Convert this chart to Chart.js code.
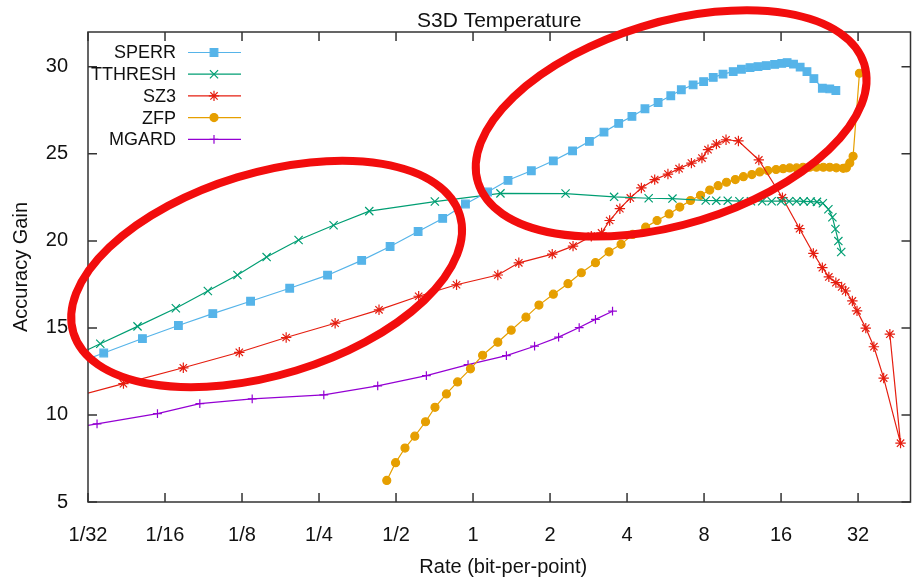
<!DOCTYPE html>
<html>
<head>
<meta charset="utf-8">
<title>S3D Temperature</title>
<script src="https://cdn.jsdelivr.net/npm/chart.js@4.4.1/dist/chart.umd.min.js"></script>
<style>
  html, body { margin: 0; padding: 0; background: #fff; }
  #wrap { width: 912px; height: 579px; }
</style>
</head>
<body>
<div id="wrap"><canvas id="chart" width="912" height="579"></canvas></div>
<script>
// axis ticks (rate is on a log2 axis)
const xTickValues = [1/32, 1/16, 1/8, 1/4, 1/2, 1, 2, 4, 8, 16, 32];
const xTickLabels = ['1/32', '1/16', '1/8', '1/4', '1/2', '1', '2', '4', '8', '16', '32'];
const yTickValues = [5, 10, 15, 20, 25, 30];

// series: rate (bit-per-point) and accuracy gain
const sperrRate = [0.0253, 0.0360, 0.0510, 0.0705, 0.0961, 0.135, 0.192, 0.270, 0.367, 0.474, 0.610, 0.761, 0.934, 1.14, 1.37, 1.69, 2.06, 2.45, 2.85, 3.25, 3.71, 4.18, 4.70, 5.29, 5.93, 6.52, 7.25, 7.97, 8.69, 9.49, 10.4, 11.2, 12.1, 13.0, 14.0, 15.1, 16.1, 16.9, 17.9, 19.0, 20.2, 21.5, 23.2, 24.8, 26.2];
const sperrGain = [12.72, 13.56, 14.39, 15.14, 15.82, 16.53, 17.28, 18.03, 18.88, 19.68, 20.54, 21.29, 22.12, 22.81, 23.48, 24.03, 24.60, 25.17, 25.72, 26.25, 26.75, 27.15, 27.59, 27.95, 28.34, 28.68, 28.96, 29.15, 29.39, 29.58, 29.72, 29.86, 29.95, 30.01, 30.07, 30.14, 30.20, 30.24, 30.15, 29.98, 29.72, 29.32, 28.77, 28.73, 28.64];

const tthreshRate = [0.0251, 0.0349, 0.0488, 0.0689, 0.0919, 0.120, 0.156, 0.208, 0.285, 0.393, 0.709, 1.28, 2.30, 3.56, 4.86, 6.02, 8.12, 8.93, 9.90, 11.0, 12.2, 13.5, 14.7, 16.0, 17.2, 18.4, 19.6, 20.9, 22.1, 23.3, 24.5, 25.4, 26.1, 26.8, 27.5];
const tthreshGain = [13.09, 14.09, 15.09, 16.13, 17.12, 18.04, 19.07, 20.05, 20.90, 21.71, 22.26, 22.73, 22.72, 22.53, 22.45, 22.43, 22.32, 22.31, 22.31, 22.28, 22.28, 22.28, 22.28, 22.28, 22.28, 22.28, 22.27, 22.26, 22.24, 22.16, 21.82, 21.36, 20.68, 19.99, 19.36];

const sz3Rate = [0.0252, 0.0430, 0.0737, 0.122, 0.186, 0.289, 0.429, 0.613, 0.862, 1.25, 1.51, 2.04, 2.46, 2.90, 3.18, 3.42, 3.75, 4.12, 4.55, 5.13, 5.78, 6.39, 7.14, 7.85, 8.29, 8.94, 9.75, 10.9, 13.1, 16.2, 18.9, 21.4, 23.2, 24.6, 26.2, 27.6, 28.6, 30.4, 31.7, 34.3, 36.9, 40.3, 46.9, 42.6];
const sz3Gain = [10.88, 11.80, 12.71, 13.60, 14.45, 15.27, 16.04, 16.82, 17.48, 18.04, 18.74, 19.24, 19.70, 20.27, 20.46, 21.17, 21.85, 22.47, 23.04, 23.52, 23.84, 24.15, 24.47, 24.76, 25.24, 25.56, 25.81, 25.74, 24.65, 22.48, 20.70, 19.28, 18.46, 17.93, 17.60, 17.35, 17.12, 16.55, 15.98, 14.99, 13.92, 12.12, 8.38, 14.64];

const zfpRate = [0.460, 0.498, 0.542, 0.592, 0.652, 0.710, 0.787, 0.870, 0.977, 1.09, 1.25, 1.41, 1.61, 1.81, 2.06, 2.35, 2.65, 3.01, 3.40, 3.79, 4.21, 4.73, 5.24, 5.84, 6.43, 7.08, 7.75, 8.42, 9.08, 9.79, 10.6, 11.4, 12.3, 13.2, 14.2, 15.3, 16.3, 17.3, 18.4, 19.5, 20.7, 22.0, 23.4, 24.8, 26.3, 28.0, 28.8, 29.7, 30.6, 32.4];
const zfpGain = [6.24, 7.26, 8.10, 8.78, 9.61, 10.44, 11.21, 11.90, 12.65, 13.43, 14.18, 14.87, 15.62, 16.31, 16.94, 17.54, 18.17, 18.75, 19.37, 19.80, 20.37, 20.79, 21.17, 21.55, 21.94, 22.32, 22.62, 22.92, 23.17, 23.37, 23.52, 23.69, 23.81, 23.96, 24.04, 24.10, 24.15, 24.19, 24.19, 24.23, 24.23, 24.23, 24.23, 24.23, 24.20, 24.17, 24.20, 24.48, 24.86, 29.63];

const mgardRate = [0.0195, 0.0339, 0.0584, 0.0855, 0.137, 0.261, 0.424, 0.657, 0.956, 1.35, 1.74, 2.16, 2.60, 3.01, 3.51];
const mgardGain = [8.88, 9.49, 10.08, 10.65, 10.92, 11.15, 11.67, 12.26, 12.89, 13.41, 13.95, 14.47, 15.02, 15.49, 15.96];

// centres of the two hand-drawn red ellipses, in data units
const highlightRate = [0.156, 5.95];
const highlightGain = [18.1, 26.75];

const FONT = "'Liberation Sans', Arial, Helvetica, sans-serif";
const TEXT = '#111';
const TICK_LEN = 9;

function makeSeries(label, rates, gains, color, pointStyle, radius) {
  return {
    label: label,
    data: rates.map(function (r, i) { return { x: r, y: gains[i] }; }),
    borderColor: color,
    backgroundColor: color,
    pointBackgroundColor: color,
    pointBorderColor: color,
    borderWidth: 1.2,
    pointBorderWidth: 1.2,
    pointStyle: pointStyle,
    pointRadius: radius,
    tension: 0,
    fill: false
  };
}

const framePlugin = {
  id: 'frame',
  afterDatasetsDraw: function (chart) {
    const ctx = chart.ctx;
    const a = chart.chartArea;
    const x = chart.scales.x;
    const y = chart.scales.y;
    ctx.save();
    ctx.strokeStyle = '#333';
    ctx.lineWidth = 1.5;
    ctx.strokeRect(a.left, a.top, a.right - a.left, a.bottom - a.top);
    ctx.beginPath();
    xTickValues.forEach(function (v) {
      const px = x.getPixelForValue(v);
      ctx.moveTo(px, a.bottom); ctx.lineTo(px, a.bottom - TICK_LEN);
      ctx.moveTo(px, a.top); ctx.lineTo(px, a.top + TICK_LEN);
    });
    yTickValues.forEach(function (v) {
      const py = y.getPixelForValue(v);
      ctx.moveTo(a.left, py); ctx.lineTo(a.left + TICK_LEN, py);
      ctx.moveTo(a.right, py); ctx.lineTo(a.right - TICK_LEN, py);
    });
    ctx.stroke();
    ctx.restore();
  }
};

const labelsPlugin = {
  id: 'labels',
  afterDraw: function (chart) {
    const ctx = chart.ctx;
    const a = chart.chartArea;
    const midX = (a.left + a.right) / 2;
    const midY = (a.top + a.bottom) / 2;
    ctx.save();
    ctx.fillStyle = TEXT;
    ctx.textBaseline = 'alphabetic';
    ctx.textAlign = 'center';
    ctx.font = '21px ' + FONT;
    ctx.fillText('S3D Temperature', midX, 26.5);
    ctx.font = '20px ' + FONT;
    ctx.fillText('Rate (bit-per-point)', midX + 4, 573);
    ctx.save();
    ctx.translate(27, midY);
    ctx.rotate(-Math.PI / 2);
    ctx.fillText('Accuracy Gain', 0, 0);
    ctx.restore();

    // key, gnuplot style: right-aligned names with a line sample
    ctx.font = '18px ' + FONT;
    ctx.textAlign = 'right';
    ctx.textBaseline = 'middle';
    chart.data.datasets.forEach(function (ds, i) {
      const rowY = 52.5 + i * 21.7;
      ctx.fillStyle = TEXT;
      ctx.fillText(ds.label, 176, rowY + 1);
      ctx.strokeStyle = ds.borderColor;
      ctx.fillStyle = ds.borderColor;
      ctx.lineWidth = ds.borderWidth;
      ctx.beginPath();
      ctx.moveTo(188, rowY);
      ctx.lineTo(241, rowY);
      ctx.stroke();
      ctx.lineWidth = ds.pointBorderWidth;
      Chart.helpers.drawPoint(ctx, {
        pointStyle: ds.pointStyle,
        radius: ds.pointRadius,
        rotation: 0,
        borderWidth: ds.pointBorderWidth
      }, 214, rowY);
    });
    ctx.restore();
  }
};

const highlightPlugin = {
  id: 'highlight',
  afterDraw: function (chart) {
    const ctx = chart.ctx;
    const x = chart.scales.x;
    const y = chart.scales.y;
    ctx.save();
    ctx.strokeStyle = '#f20d0d';
    ctx.lineWidth = 8;
    highlightRate.forEach(function (r, i) {
      ctx.beginPath();
      ctx.ellipse(x.getPixelForValue(r), y.getPixelForValue(highlightGain[i]), 202, 101, -17 * Math.PI / 180, 0, Math.PI * 2);
      ctx.stroke();
    });
    ctx.restore();
  }
};

Chart.defaults.font.family = FONT;
Chart.defaults.color = TEXT;

new Chart(document.getElementById('chart').getContext('2d'), {
  type: 'line',
  data: {
    datasets: [
      makeSeries('SPERR', sperrRate, sperrGain, '#56b4e9', 'rect', 5.4),
      makeSeries('TTHRESH', tthreshRate, tthreshGain, '#009e73', 'crossRot', 5.8),
      makeSeries('SZ3', sz3Rate, sz3Gain, '#e51e10', 'star', 5.2),
      makeSeries('ZFP', zfpRate, zfpGain, '#e69f00', 'circle', 4),
      makeSeries('MGARD', mgardRate, mgardGain, '#9400d3', 'cross', 4.4)
    ]
  },
  options: {
    responsive: false,
    animation: false,
    devicePixelRatio: 1,
    layout: { autoPadding: false, padding: { top: 32, right: 1.5, left: 0, bottom: 0 } },
    plugins: {
      legend: { display: false },
      title: { display: false },
      tooltip: { enabled: false }
    },
    scales: {
      x: {
        type: 'logarithmic',
        min: 1 / 32,
        max: 51.3,
        grid: { display: false },
        border: { display: false },
        afterBuildTicks: function (scale) {
          scale.ticks = xTickValues.map(function (v) { return { value: v }; });
        },
        afterFit: function (scale) {
          scale.height = 77;
          scale.paddingLeft = 0;
          scale.paddingRight = 0;
        },
        ticks: {
          autoSkip: false,
          maxRotation: 0,
          padding: 13,
          font: { size: 20 },
          callback: function (value, index) { return xTickLabels[index]; }
        }
      },
      y: {
        type: 'linear',
        min: 5,
        max: 32,
        grid: { display: false },
        border: { display: false },
        afterBuildTicks: function (scale) {
          scale.ticks = yTickValues.map(function (v) { return { value: v }; });
        },
        afterFit: function (scale) { scale.width = 88; },
        ticks: {
          padding: 12,
          font: { size: 20 }
        }
      }
    }
  },
  plugins: [framePlugin, labelsPlugin, highlightPlugin]
});
</script>
</body>
</html>
